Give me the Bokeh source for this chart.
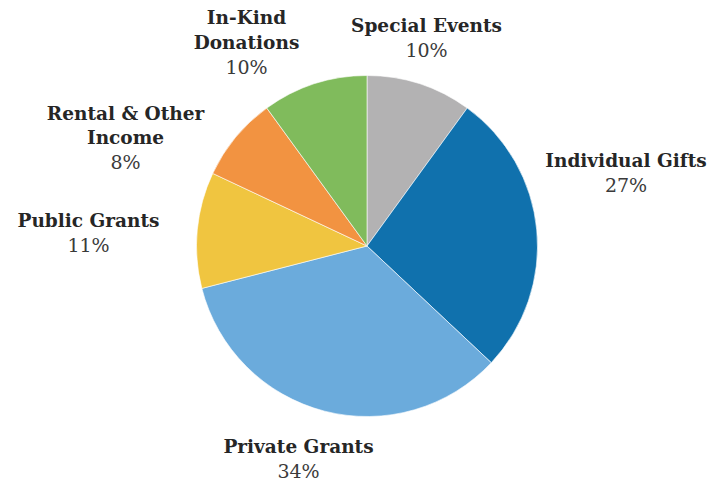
import numpy as np
from bokeh.plotting import figure
from bokeh.models import Range1d, ColumnDataSource
from bokeh.core.properties import value
from bokeh.embed import file_html
from bokeh.resources import INLINE

# ---- data ----
categories = ["Special Events", "Individual Gifts", "Private Grants",
              "Public Grants", "Rental & Other\nIncome", "In-Kind\nDonations"]
shares = [10, 27, 34, 11, 8, 10]
colors = ["#b3b2b3", "#1071ad", "#6babdc", "#f0c540", "#f29341", "#80bb5c"]

# ---- layout (page pixels) ----
W, H = 721, 483
def X(px): return px
def Y(py): return H - py

cx, cy, r = X(366.5), Y(245.5), 170.5
# label anchor: (center x, baseline of first bold line) in page pixels
label_pos = [(426, 33), (625.5, 167.7), (298, 454.3),
             (88, 227.7), (125, 120.7), (246, 25)]
line_gap = 24.5
text_shift = -8

vals = np.array(shares, dtype=float)
frac = vals / vals.sum()
ends = np.pi / 2 - 2 * np.pi * np.cumsum(frac)
starts = np.concatenate([[np.pi / 2], ends[:-1]])

p = figure(width=W, height=H, output_backend="svg", toolbar_location=None,
           x_range=Range1d(0, W), y_range=Range1d(0, H), min_border=0)
p.axis.visible = False
p.grid.visible = False
p.outline_line_color = None
p.background_fill_color = "white"
p.border_fill_color = "white"

src = ColumnDataSource(dict(start=ends, end=starts, color=colors))
p.wedge(x=cx, y=cy, radius=r, start_angle="start", end_angle="end",
        direction="anticlock", fill_color="color", line_color="white",
        line_width=0.6, source=src)

bx, by, bt = [], [], []
qx, qy, qt = [], [], []
for name, sh, (lx, ly) in zip(categories, shares, label_pos):
    lines = name.split("\n")
    for i, ln in enumerate(lines):
        bx.append(X(lx)); by.append(Y(ly + i * line_gap + text_shift)); bt.append(ln)
    qx.append(X(lx)); qy.append(Y(ly + len(lines) * line_gap + text_shift)); qt.append(f"{sh}%")

p.text(x=bx, y=by, text=bt, text_align="center", text_baseline="alphabetic",
       text_font=value("DejaVu Serif"), text_font_style="bold",
       text_font_size="18.5px", text_color="#262626")
p.text(x=qx, y=qy, text=qt, text_align="center", text_baseline="alphabetic",
       text_font=value("DejaVu Serif"), text_font_style="normal",
       text_font_size="19px", text_color="#3a3a3a")

open("out.html", "w").write(file_html(p, INLINE))
